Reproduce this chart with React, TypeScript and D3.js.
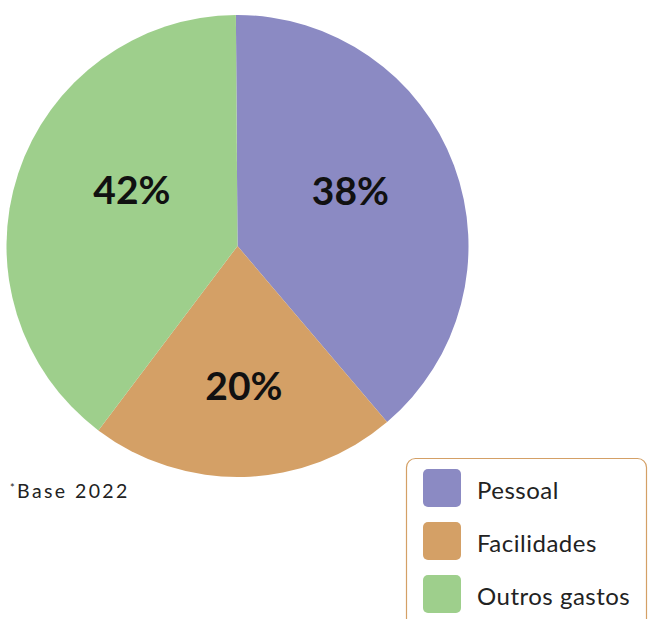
import React from "react";
import * as d3 from "d3";

const categories = ["Pessoal", "Facilidades", "Outros gastos"];
const values = [38.9, 21.5, 39.6];
const labels = ["38%", "20%", "42%"];
const colors = ["#8b8ac3", "#d4a066", "#9ecf8c"];
const footnote = "Base 2022";

const W = 648;
const H = 619;
const cx = 237.5;
const cy = 246;
const R = 231;
// small per-slice label adjustments (angle offset in degrees, radius)
const labelAngleShift = [-6, -1, 10];
const labelRadius = [126, 139, 120];

export default function App() {
  const pie = d3
    .pie<number>()
    .sort(null)
    .startAngle((-0.4 * Math.PI) / 180)
    .endAngle(2 * Math.PI - (0.4 * Math.PI) / 180)
    .value((d) => d);
  const arcs = pie(values);
  const arc = d3.arc<d3.PieArcDatum<number>>().innerRadius(0).outerRadius(R);
  const font = "Lato, 'Noto Sans', sans-serif";

  const legendY = d3
    .scaleBand<string>()
    .domain(categories)
    .range([469, 613])
    .paddingInner(15 / 53)
    .paddingOuter(0);

  return (
    <svg
      width={W}
      height={H}
      style={{ position: "absolute", left: 0, top: 0, background: "#fff" }}
    >
      <g transform={`translate(${cx},${cy})`}>
        {arcs.map((a, i) => (
          <path key={i} d={arc(a) || ""} fill={colors[i]} />
        ))}
        {arcs.map((a, i) => {
          const mid = (a.startAngle + a.endAngle) / 2 + (labelAngleShift[i] * Math.PI) / 180;
          const r = labelRadius[i];
          const x = Math.sin(mid) * r;
          const y = -Math.cos(mid) * r;
          return (
            <text
              key={i}
              x={x}
              y={y}
              textAnchor="middle"
              dominantBaseline="central"
              fontFamily={font}
              fontWeight={700}
              fontSize={39}
              fill="#111"
            >
              {labels[i]}
            </text>
          );
        })}
      </g>
      <text x={10} y={498} fontFamily={font} fontSize={19.5} fill="#222" letterSpacing={2.4}>
        <tspan fontSize={11} dy={-6}>*</tspan>
        <tspan dy={6}>{footnote}</tspan>
      </text>
      <rect
        x={406.5}
        y={458.5}
        width={240}
        height={200}
        rx={9}
        fill="#fff"
        stroke="#d4a066"
        strokeWidth={1.2}
      />
      {categories.map((c, i) => {
        const y = legendY(c) || 0;
        const h = legendY.bandwidth();
        return (
          <g key={c}>
            <rect x={423} y={y} width={38} height={h} rx={5} fill={colors[i]} />
            <text
              x={477}
              y={y + 30}
              fontFamily={font}
              fontSize={24}
              letterSpacing={0.5}
              fill="#222"
            >
              {c}
            </text>
          </g>
        );
      })}
    </svg>
  );
}
